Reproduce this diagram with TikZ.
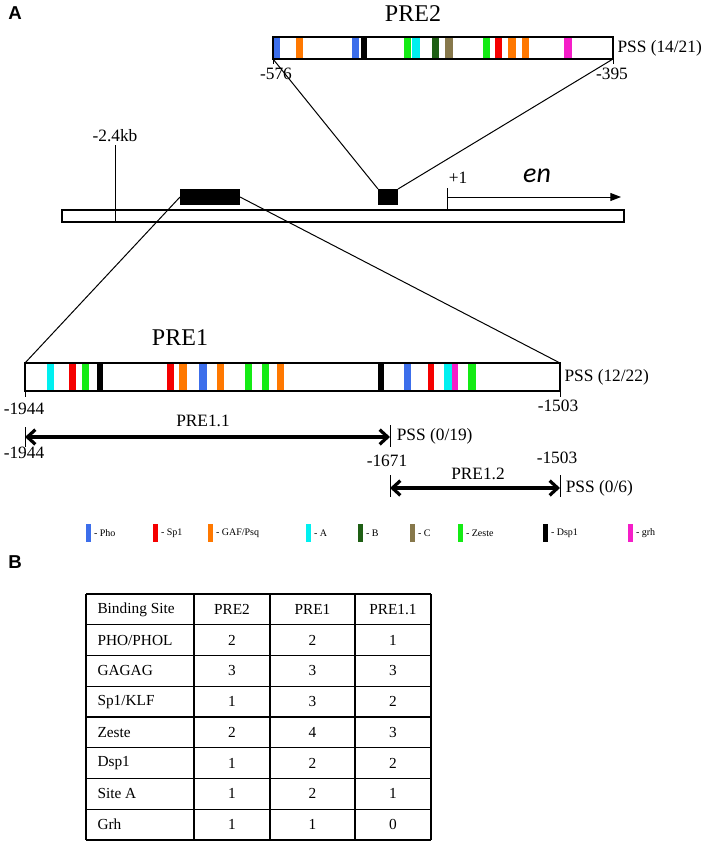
\documentclass[tikz,border=0pt]{standalone}
\usepackage{fontspec}
\setmainfont{Liberation Serif}
\newfontfamily\panelfont{Liberation Sans}
\newfontfamily\genefont{Carlito}
\usetikzlibrary{positioning,calc,arrows.meta}

\definecolor{cPho}{RGB}{60,110,235}
\definecolor{cSp}{RGB}{245,0,0}
\definecolor{cGaf}{RGB}{255,120,0}
\definecolor{cA}{RGB}{0,240,240}
\definecolor{cB}{RGB}{30,95,20}
\definecolor{cC}{RGB}{135,120,75}
\definecolor{cZe}{RGB}{20,235,20}
\definecolor{cDsp}{RGB}{0,0,0}
\definecolor{cGrh}{RGB}{245,30,200}

\tikzset{
  bar/.style={draw,line width=1pt,inner sep=0pt,outer sep=0pt},
  blk/.style={fill=black,inner sep=0pt,outer sep=0pt},
  lbl/.style={font=\fontsize{13}{15}\selectfont,inner sep=1pt},
  ttl/.style={font=\fontsize{18}{20}\selectfont,inner sep=1pt},
  legtext/.style={font=\fontsize{7.5}{9}\selectfont,inner sep=0pt,anchor=west},
  cell/.style={font=\fontsize{11.5}{13}\selectfont,inner sep=0pt},
  panel/.style={font=\panelfont\bfseries\fontsize{14}{16}\selectfont},
  span/.style={line width=2.4pt,{Straight Barb[length=6pt,width=11pt]}-{Straight Barb[length=6pt,width=11pt]}},
}

\begin{document}
\begin{tikzpicture}[x=0.75pt,y=-0.75pt,line width=0.75pt]
    \useasboundingbox (0,0) rectangle (712,842);

    \node[panel] (panelA) at (15,13) {A};
    \node[panel] (panelB) at (15,562) {B};

    % gene
    \node[bar,minimum width=421.5pt,minimum height=9pt] (gene) at (343,216) {};
    \node[blk,minimum width=45pt,minimum height=12pt] (boxone) at (210,197) {};
    \node[blk,minimum width=15pt,minimum height=12pt] (boxtwo) at (388,197) {};
    \coordinate (kbtop) at (115,145);
    \draw (kbtop) -- (kbtop |- gene.south);
    \node[lbl,above=1pt of kbtop] (kb) {-2.4kb};
    \coordinate (tss) at (447,188);
    \draw (tss) -- (tss |- gene.north);
    \node[lbl] (plusone) at (458,178) {+1};
    \coordinate (tssarr) at (447,197);
    \coordinate (tssend) at (621,197);
    \draw[-{Triangle[length=8pt,width=6pt]}] (tssarr) -- (tssend);
    \node[font=\genefont\itshape\fontsize{21}{24}\selectfont] (en) at (537,176) {en};

    % PRE2
    \node[ttl] (pretwolabel) at (413,14) {PRE2};
    \foreach \a/\b/\c in {273/280/cPho,296/303/cGaf,352/359/cPho,361/367/cDsp,
        404/411/cZe,412/420/cA,432/439/cB,445/453/cC,483/490/cZe,495/502/cSp,
        508/516/cGaf,522/529/cGaf,564/572/cGrh}
      \fill[\c] (\a,37) rectangle (\b,59);
    \node[bar,minimum width=255pt,minimum height=16.5pt] (pretwo) at (443,48) {};
    \draw (pretwo.south west) -- ++(0,5);
    \draw (pretwo.south east) -- ++(0,5);
    \node[lbl,right=2pt of pretwo.east] (psstwo) {PSS (14/21)};
    \node[lbl] (pretwol) at (276,74) {-576};
    \node[lbl] (pretwor) at (612,74) {-395};
    \draw (pretwo.south west) -- (boxtwo.north west);
    \draw (pretwo.south east) -- (boxtwo.north east);

    % PRE1
    \node[ttl] (preonelabel) at (180,338) {PRE1};
    \foreach \a/\b/\c in {47/54/cA,69/76/cSp,82/89/cZe,97/103/cDsp,167/174/cSp,
        179/187/cGaf,199/207/cPho,217/224/cGaf,245/252/cZe,262/269/cZe,
        277/284/cGaf,378/384/cDsp,404/411/cPho,428/434/cSp,444/452/cA,
        452/458/cGrh,468/476/cZe}
      \fill[\c] (\a,363) rectangle (\b,391);
    \node[bar,minimum width=401.25pt,minimum height=21pt] (preone) at (292.5,377) {};
    \draw (preone.south west) -- ++(0,6);
    \draw (preone.south east) -- ++(0,6);
    \node[lbl,right=2pt of preone.east] (pssone) {PSS (12/22)};
    \node[lbl] (preonel) at (24,409) {-1944};
    \node[lbl] (preoner) at (558,406) {-1503};
    \draw (boxone.west) -- (preone.north west);
    \draw (boxone.east) -- (preone.north east);

    % PRE1.1
    \coordinate (s1a) at (25,437);
    \coordinate (s1b) at (390,437);
    \draw ($(s1a)+(0,-10)$) -- ($(s1a)+(0,10)$);
    \draw ($(s1b)+(0,-12)$) -- ($(s1b)+(0,10)$);
    \draw[span] (s1a) -- (s1b);
    \node[lbl] (sone) at (203,421) {PRE1.1};
    \node[lbl,anchor=west] (pssa) at (395,436) {PSS (0/19)};
    \node[lbl] (sonel) at (24,453) {-1944};
    \node[lbl] (soner) at (387,461) {-1671};

    % PRE1.2
    \coordinate (s2a) at (390,488);
    \coordinate (s2b) at (560,488);
    \draw ($(s2a)+(0,-13)$) -- ($(s2a)+(0,9)$);
    \draw ($(s2b)+(0,-13)$) -- ($(s2b)+(0,9)$);
    \draw[span] (s2a) -- (s2b);
    \node[lbl] (stwo) at (478,474) {PRE1.2};
    \node[lbl,anchor=west] (pssb) at (564,488) {PSS (0/6)};
    \node[lbl] (stwor) at (557,458) {-1503};

    % legend
    \foreach \c/\t/\x [count=\i] in {cPho/Pho/88,cSp/Sp1/155,cGaf/GAF\slash Psq/210,
        cA/A/308,cB/B/360,cC/C/412,cZe/Zeste/460,cDsp/Dsp1/545,cGrh/grh/630} {
      \fill[\c] (\x-2.5,524) rectangle (\x+2.5,542);
      \node[legtext] (leg-\i) at (\x+5.5,533) {- \t};
    }

    % table
    \foreach \y in {594,624.75,655.5,686.25,717,747.75,778.5,809.25,840}
      \draw[line width=1pt] (86,\y) -- (431,\y);
    \foreach \x in {86,194,270,355,431}
      \draw[line width=1pt] (\x,594) -- (\x,840);
    \foreach \s/\a/\b/\c [count=\r] in {Binding Site/PRE2/PRE1/PRE1.1,
        {PHO\slash PHOL}/2/2/1,GAGAG/3/3/3,{Sp1\slash KLF}/1/3/2,Zeste/2/4/3,
        Dsp1/1/2/2,Site A/1/2/1,Grh/1/1/0} {
      \node[cell,anchor=west] (t-\r-1) at (97,594+30.75*\r-15.4) {\s};
      \node[cell] (t-\r-2) at (232,594+30.75*\r-15.4) {\a};
      \node[cell] (t-\r-3) at (312.5,594+30.75*\r-15.4) {\b};
      \node[cell] (t-\r-4) at (393,594+30.75*\r-15.4) {\c};
    }
\end{tikzpicture}
\end{document}
